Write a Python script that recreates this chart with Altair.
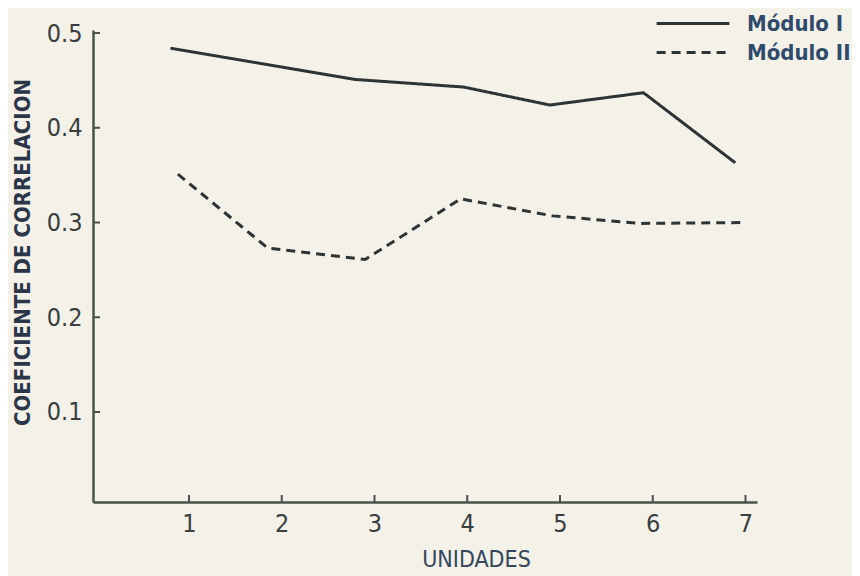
import altair as alt
import pandas as pd

# ---- data ----
series_names = ["Módulo I", "Módulo II"]
mod1_x = [0.80, 2.79, 3.96, 4.89, 5.90, 6.89]
mod1_y = [0.484, 0.451, 0.443, 0.424, 0.437, 0.363]
mod2_x = [0.88, 1.85, 2.90, 3.93, 4.92, 5.87, 7.00]
mod2_y = [0.351, 0.273, 0.261, 0.325, 0.307, 0.299, 0.300]
x_ticks = [1, 2, 3, 4, 5, 6, 7]
y_ticks = [0.1, 0.2, 0.3, 0.4, 0.5]

df = pd.concat([
    pd.DataFrame({"unidad": mod1_x, "coef": mod1_y, "serie": series_names[0]}),
    pd.DataFrame({"unidad": mod2_x, "coef": mod2_y, "serie": series_names[1]}),
])

NARROW = "Liberation Sans Narrow, Arial Narrow, DejaVu Sans Condensed, sans-serif"
INK = "#2e3436"
AXIS = "#48524a"
PAPER = "#f3f1e8"
W, H = 664, 472

xs = alt.Scale(domain=[-0.035, 7.124], nice=False, zero=False)
ys = alt.Scale(domain=[0.005, 0.5032], nice=False, zero=False)

x_axis = alt.Axis(
    values=x_ticks, format="d", grid=False, ticks=False,
    domain=True, domainColor=AXIS, domainWidth=2.5,
    labelFont=NARROW, labelFontSize=25, labelColor="#3a3e40", labelPadding=9,
    title="UNIDADES", titleFont=NARROW, titleFontSize=23, titleFontWeight="normal",
    titleColor="#35465a", titleX=383, titleY=57, titleAlign="center",
    titleBaseline="middle", titleAnchor="start")
y_axis = alt.Axis(
    values=y_ticks, format=".1f", grid=False, ticks=False,
    domain=True, domainColor=AXIS, domainWidth=2.5,
    labelFont=NARROW, labelFontSize=25, labelColor="#3a3e40", labelPadding=11,
    title="COEFICIENTE DE CORRELACION", titleFont=NARROW, titleFontSize=22,
    titleFontWeight="bold", titleColor="#2b3648", titleX=-71, titleY=222,
    titleAlign="center", titleBaseline="middle", titleAnchor="start")

lines = alt.Chart(df).mark_line(strokeWidth=3, color=INK).encode(
    x=alt.X("unidad:Q", scale=xs, axis=x_axis),
    y=alt.Y("coef:Q", scale=ys, axis=y_axis),
    strokeDash=alt.StrokeDash("serie:N",
        scale=alt.Scale(domain=series_names, range=[[1, 0], [9, 6]]),
        legend=alt.Legend(title=None, orient="none", legendX=562, legendY=-19,
                          symbolType="stroke", symbolSize=5300, symbolStrokeWidth=3,
                          symbolStrokeColor=INK, labelFont=NARROW, labelFontSize=22,
                          labelFontWeight="bold", labelColor="#2f4a6a",
                          labelOffset=16, clipHeight=25, rowPadding=4)),
)

xt = alt.Chart(pd.DataFrame({"unidad": x_ticks})).mark_rule(color=AXIS, strokeWidth=2).encode(
    x=alt.X("unidad:Q", scale=xs, axis=x_axis), y=alt.value(H), y2=alt.value(H - 7))
yt = alt.Chart(pd.DataFrame({"coef": y_ticks})).mark_rule(color=AXIS, strokeWidth=2).encode(
    y=alt.Y("coef:Q", scale=ys, axis=y_axis), x=alt.value(0), x2=alt.value(7))

chart = alt.layer(lines, xt, yt).properties(
    width=W, height=H,
    autosize=alt.AutoSizeParams(type="none"),
    padding={"left": 85, "top": 22, "right": 95, "bottom": 74},
    background=PAPER,
).configure_view(stroke=None)

chart.save("out.html", embed_options={"renderer": "svg", "actions": False})
